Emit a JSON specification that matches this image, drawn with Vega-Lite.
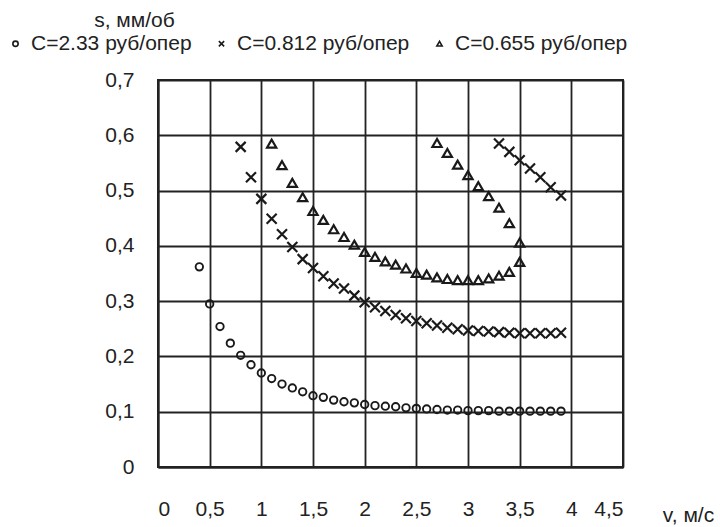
{
  "$schema": "https://vega.github.io/schema/vega-lite/v6.json",
  "autosize": {"type": "none"},
  "padding": {"left": 158, "top": 80, "right": 97, "bottom": 60},
  "width": 465,
  "height": 387,
  "background": "white",
  "config": {
    "font": "Liberation Sans",
    "view": {"stroke": "#222", "strokeWidth": 2},
    "axis": {
      "gridColor": "#222", "gridWidth": 1.8, "gridOpacity": 1,
      "domainColor": "#222", "domainWidth": 2,
      "ticks": false,
      "labelFontSize": 21, "labelColor": "#222",
      "titleFontSize": 21, "titleFontWeight": "normal", "titleColor": "#222"
    }
  },
  "data": {"values": [
    {"v": 0.4, "s": 0.362, "series": "C=2.33 руб/опер"},
    {"v": 0.5, "s": 0.295, "series": "C=2.33 руб/опер"},
    {"v": 0.6, "s": 0.254, "series": "C=2.33 руб/опер"},
    {"v": 0.7, "s": 0.224, "series": "C=2.33 руб/опер"},
    {"v": 0.8, "s": 0.202, "series": "C=2.33 руб/опер"},
    {"v": 0.9, "s": 0.185, "series": "C=2.33 руб/опер"},
    {"v": 1.0, "s": 0.170, "series": "C=2.33 руб/опер"},
    {"v": 1.1, "s": 0.160, "series": "C=2.33 руб/опер"},
    {"v": 1.2, "s": 0.150, "series": "C=2.33 руб/опер"},
    {"v": 1.3, "s": 0.143, "series": "C=2.33 руб/опер"},
    {"v": 1.4, "s": 0.136, "series": "C=2.33 руб/опер"},
    {"v": 1.5, "s": 0.129, "series": "C=2.33 руб/опер"},
    {"v": 1.6, "s": 0.126, "series": "C=2.33 руб/опер"},
    {"v": 1.7, "s": 0.121, "series": "C=2.33 руб/опер"},
    {"v": 1.8, "s": 0.118, "series": "C=2.33 руб/опер"},
    {"v": 1.9, "s": 0.116, "series": "C=2.33 руб/опер"},
    {"v": 2.0, "s": 0.113, "series": "C=2.33 руб/опер"},
    {"v": 2.1, "s": 0.111, "series": "C=2.33 руб/опер"},
    {"v": 2.2, "s": 0.110, "series": "C=2.33 руб/опер"},
    {"v": 2.3, "s": 0.109, "series": "C=2.33 руб/опер"},
    {"v": 2.4, "s": 0.107, "series": "C=2.33 руб/опер"},
    {"v": 2.5, "s": 0.106, "series": "C=2.33 руб/опер"},
    {"v": 2.6, "s": 0.105, "series": "C=2.33 руб/опер"},
    {"v": 2.7, "s": 0.104, "series": "C=2.33 руб/опер"},
    {"v": 2.8, "s": 0.103, "series": "C=2.33 руб/опер"},
    {"v": 2.9, "s": 0.103, "series": "C=2.33 руб/опер"},
    {"v": 3.0, "s": 0.102, "series": "C=2.33 руб/опер"},
    {"v": 3.1, "s": 0.102, "series": "C=2.33 руб/опер"},
    {"v": 3.2, "s": 0.102, "series": "C=2.33 руб/опер"},
    {"v": 3.3, "s": 0.101, "series": "C=2.33 руб/опер"},
    {"v": 3.4, "s": 0.101, "series": "C=2.33 руб/опер"},
    {"v": 3.5, "s": 0.101, "series": "C=2.33 руб/опер"},
    {"v": 3.6, "s": 0.101, "series": "C=2.33 руб/опер"},
    {"v": 3.7, "s": 0.101, "series": "C=2.33 руб/опер"},
    {"v": 3.8, "s": 0.101, "series": "C=2.33 руб/опер"},
    {"v": 3.9, "s": 0.101, "series": "C=2.33 руб/опер"},
    {"v": 0.8, "s": 0.579, "series": "C=0.812 руб/опер"},
    {"v": 0.9, "s": 0.524, "series": "C=0.812 руб/опер"},
    {"v": 1.0, "s": 0.485, "series": "C=0.812 руб/опер"},
    {"v": 1.1, "s": 0.449, "series": "C=0.812 руб/опер"},
    {"v": 1.2, "s": 0.421, "series": "C=0.812 руб/опер"},
    {"v": 1.3, "s": 0.398, "series": "C=0.812 руб/опер"},
    {"v": 1.4, "s": 0.376, "series": "C=0.812 руб/опер"},
    {"v": 1.5, "s": 0.360, "series": "C=0.812 руб/опер"},
    {"v": 1.6, "s": 0.345, "series": "C=0.812 руб/опер"},
    {"v": 1.7, "s": 0.332, "series": "C=0.812 руб/опер"},
    {"v": 1.8, "s": 0.323, "series": "C=0.812 руб/опер"},
    {"v": 1.9, "s": 0.310, "series": "C=0.812 руб/опер"},
    {"v": 2.0, "s": 0.298, "series": "C=0.812 руб/опер"},
    {"v": 2.1, "s": 0.289, "series": "C=0.812 руб/опер"},
    {"v": 2.2, "s": 0.282, "series": "C=0.812 руб/опер"},
    {"v": 2.3, "s": 0.275, "series": "C=0.812 руб/опер"},
    {"v": 2.4, "s": 0.269, "series": "C=0.812 руб/опер"},
    {"v": 2.5, "s": 0.264, "series": "C=0.812 руб/опер"},
    {"v": 2.6, "s": 0.260, "series": "C=0.812 руб/опер"},
    {"v": 2.7, "s": 0.256, "series": "C=0.812 руб/опер"},
    {"v": 2.8, "s": 0.252, "series": "C=0.812 руб/опер"},
    {"v": 2.9, "s": 0.249, "series": "C=0.812 руб/опер"},
    {"v": 3.0, "s": 0.247, "series": "C=0.812 руб/опер"},
    {"v": 3.1, "s": 0.246, "series": "C=0.812 руб/опер"},
    {"v": 3.2, "s": 0.245, "series": "C=0.812 руб/опер"},
    {"v": 3.3, "s": 0.244, "series": "C=0.812 руб/опер"},
    {"v": 3.4, "s": 0.243, "series": "C=0.812 руб/опер"},
    {"v": 3.5, "s": 0.242, "series": "C=0.812 руб/опер"},
    {"v": 3.6, "s": 0.242, "series": "C=0.812 руб/опер"},
    {"v": 3.7, "s": 0.242, "series": "C=0.812 руб/опер"},
    {"v": 3.8, "s": 0.242, "series": "C=0.812 руб/опер"},
    {"v": 3.9, "s": 0.243, "series": "C=0.812 руб/опер"},
    {"v": 3.3, "s": 0.585, "series": "C=0.812 руб/опер"},
    {"v": 3.4, "s": 0.570, "series": "C=0.812 руб/опер"},
    {"v": 3.5, "s": 0.555, "series": "C=0.812 руб/опер"},
    {"v": 3.6, "s": 0.540, "series": "C=0.812 руб/опер"},
    {"v": 3.7, "s": 0.524, "series": "C=0.812 руб/опер"},
    {"v": 3.8, "s": 0.506, "series": "C=0.812 руб/опер"},
    {"v": 3.9, "s": 0.491, "series": "C=0.812 руб/опер"},
    {"v": 1.1, "s": 0.585, "series": "C=0.655 руб/опер"},
    {"v": 1.2, "s": 0.546, "series": "C=0.655 руб/опер"},
    {"v": 1.3, "s": 0.514, "series": "C=0.655 руб/опер"},
    {"v": 1.4, "s": 0.488, "series": "C=0.655 руб/опер"},
    {"v": 1.5, "s": 0.463, "series": "C=0.655 руб/опер"},
    {"v": 1.6, "s": 0.447, "series": "C=0.655 руб/опер"},
    {"v": 1.7, "s": 0.430, "series": "C=0.655 руб/опер"},
    {"v": 1.8, "s": 0.416, "series": "C=0.655 руб/опер"},
    {"v": 1.9, "s": 0.402, "series": "C=0.655 руб/опер"},
    {"v": 2.0, "s": 0.389, "series": "C=0.655 руб/опер"},
    {"v": 2.1, "s": 0.380, "series": "C=0.655 руб/опер"},
    {"v": 2.2, "s": 0.372, "series": "C=0.655 руб/опер"},
    {"v": 2.3, "s": 0.366, "series": "C=0.655 руб/опер"},
    {"v": 2.4, "s": 0.359, "series": "C=0.655 руб/опер"},
    {"v": 2.5, "s": 0.351, "series": "C=0.655 руб/опер"},
    {"v": 2.6, "s": 0.348, "series": "C=0.655 руб/опер"},
    {"v": 2.7, "s": 0.343, "series": "C=0.655 руб/опер"},
    {"v": 2.8, "s": 0.340, "series": "C=0.655 руб/опер"},
    {"v": 2.9, "s": 0.338, "series": "C=0.655 руб/опер"},
    {"v": 3.0, "s": 0.338, "series": "C=0.655 руб/опер"},
    {"v": 3.1, "s": 0.338, "series": "C=0.655 руб/опер"},
    {"v": 3.2, "s": 0.341, "series": "C=0.655 руб/опер"},
    {"v": 3.3, "s": 0.346, "series": "C=0.655 руб/опер"},
    {"v": 3.4, "s": 0.353, "series": "C=0.655 руб/опер"},
    {"v": 3.5, "s": 0.371, "series": "C=0.655 руб/опер"},
    {"v": 3.5, "s": 0.406, "series": "C=0.655 руб/опер"},
    {"v": 3.4, "s": 0.441, "series": "C=0.655 руб/опер"},
    {"v": 3.3, "s": 0.469, "series": "C=0.655 руб/опер"},
    {"v": 3.2, "s": 0.490, "series": "C=0.655 руб/опер"},
    {"v": 3.1, "s": 0.508, "series": "C=0.655 руб/опер"},
    {"v": 3.0, "s": 0.528, "series": "C=0.655 руб/опер"},
    {"v": 2.9, "s": 0.547, "series": "C=0.655 руб/опер"},
    {"v": 2.8, "s": 0.568, "series": "C=0.655 руб/опер"},
    {"v": 2.7, "s": 0.586, "series": "C=0.655 руб/опер"}
  ]},
  "encoding": {
    "x": {
      "field": "v", "type": "quantitative",
      "scale": {"domain": [0, 4.5], "nice": false, "zero": false},
      "axis": {
        "values": [0, 0.5, 1, 1.5, 2, 2.5, 3, 3.5, 4, 4.5],
        "labelExpr": "replace(format(datum.value, '~g'), '.', ',')",
        "labelPadding": 31,
        "title": "v, м/с",
        "titleX": 530, "titleY": 48,
        "titleAlign": "center", "titleBaseline": "middle"
      }
    },
    "y": {
      "field": "s", "type": "quantitative",
      "scale": {"domain": [0, 0.7], "nice": false, "zero": false},
      "axis": {
        "values": [0, 0.1, 0.2, 0.3, 0.4, 0.5, 0.6, 0.7],
        "labelExpr": "replace(format(datum.value, '~g'), '.', ',')",
        "labelPadding": 24,
        "title": "s, мм/об",
        "titleAngle": 0,
        "titleX": -24, "titleY": -60,
        "titleAlign": "center", "titleBaseline": "middle"
      }
    },
    "shape": {
      "field": "series", "type": "nominal",
      "scale": {
        "domain": ["C=2.33 руб/опер", "C=0.812 руб/опер", "C=0.655 руб/опер"],
        "range": ["circle", "M-1,-1L1,1M-1,1L1,-1", "triangle-up"]
      },
      "legend": {
        "orient": "none",
        "legendX": -153, "legendY": -47,
        "direction": "horizontal",
        "columns": 3,
        "title": null,
        "labelFontSize": 21,
        "labelLimit": 400,
        "labelColor": "#222",
        "symbolSize": 28,
        "symbolStrokeWidth": 1.6,
        "symbolStrokeColor": "#1a1a1a",
        "labelOffset": 5,
        "columnPadding": 19
      }
    }
  },
  "layer": [
    {
      "transform": [{"filter": "datum.series === 'C=2.33 руб/опер'"}],
      "mark": {"type": "point", "filled": false, "color": "#1a1a1a", "strokeWidth": 1.9, "size": 55, "opacity": 1}
    },
    {
      "transform": [{"filter": "datum.series === 'C=0.812 руб/опер'"}],
      "mark": {"type": "point", "filled": false, "color": "#1a1a1a", "strokeWidth": 2.2, "size": 100, "opacity": 1}
    },
    {
      "transform": [{"filter": "datum.series === 'C=0.655 руб/опер'"}],
      "mark": {"type": "point", "filled": false, "color": "#1a1a1a", "strokeWidth": 2.2, "size": 85, "opacity": 1}
    }
  ]
}
